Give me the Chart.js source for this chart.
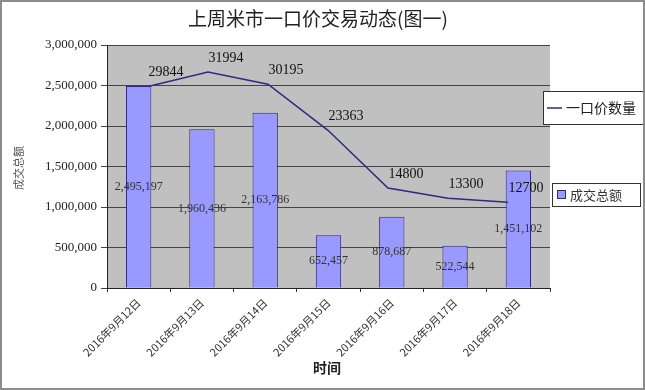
<!DOCTYPE html>
<html>
<head>
<meta charset="utf-8">
<script src="https://cdn.jsdelivr.net/npm/chart.js@4"></script>
<style>
  html, body { margin: 0; padding: 0; background: #fff; }
  canvas { display: block; }
</style>
</head>
<body>
<canvas id="myChart" width="645" height="390"></canvas>
<script>
// data (last three line values estimated, their labels are hidden)
const DAYS = [
  '2016年9月12日',
  '2016年9月13日',
  '2016年9月14日',
  '2016年9月15日',
  '2016年9月16日',
  '2016年9月17日',
  '2016年9月18日'
];
const TOTAL_AMOUNT = [2495197, 1960436, 2163786, 652457, 878687, 522544, 1451102];
const PRICE_COUNT = [29844, 31994, 30195, 23363, 14800, 13300, 12700];
const Y_TICKS = [0, 500000, 1000000, 1500000, 2000000, 2500000, 3000000];

const SERIF = '"Liberation Serif", "DejaVu Serif", serif';
const CJK = '"Noto Sans CJK SC", sans-serif';
const NAVY = '#2b2b80';

function fmt(n) {
  return n.toLocaleString('en-US');
}

const decor = {
  id: 'decor',
  beforeDraw(chart) {
    const ctx = chart.ctx;
    const a = chart.chartArea;
    ctx.save();
    ctx.fillStyle = '#fff';
    ctx.fillRect(0, 0, chart.width, chart.height);
    ctx.fillStyle = '#c0c0c0';
    ctx.fillRect(a.left, a.top, a.right - a.left, a.bottom - a.top);
    ctx.restore();
  },
  afterDatasetsDraw(chart) {
    const ctx = chart.ctx;
    ctx.save();
    ctx.textAlign = 'center';
    ctx.textBaseline = 'middle';

    // bar labels sit in the middle of each bar
    ctx.font = '12px ' + SERIF;
    ctx.fillStyle = '#333';
    chart.getDatasetMeta(0).data.forEach((bar, i) => {
      ctx.fillText(fmt(TOTAL_AMOUNT[i]), bar.x, (bar.y + bar.base) / 2);
    });

    // line labels above and to the right of the points
    ctx.font = '14px ' + SERIF;
    ctx.fillStyle = '#111';
    chart.getDatasetMeta(1).data.forEach((pt, i) => {
      ctx.fillText(String(PRICE_COUNT[i]), pt.x + 18, pt.y - 14);
    });
    ctx.restore();
  },
  afterDraw(chart) {
    const ctx = chart.ctx;
    ctx.save();

    // title
    ctx.fillStyle = '#222';
    ctx.textAlign = 'center';
    ctx.textBaseline = 'middle';
    ctx.font = '19px ' + CJK;
    ctx.fillText('上周米市一口价交易动态(图一)', 318, 19);

    // axis titles
    ctx.font = 'bold 14px ' + CJK;
    ctx.fillText('时间', 327, 368);
    ctx.save();
    ctx.translate(19, 168);
    ctx.rotate(-Math.PI / 2);
    ctx.font = '11px ' + CJK;
    ctx.fillStyle = '#555';
    ctx.fillText('成交总额', 0, 0);
    ctx.restore();

    // legend boxes
    ctx.textAlign = 'left';
    ctx.fillStyle = '#fff';
    ctx.strokeStyle = '#333';
    ctx.lineWidth = 1;
    ctx.fillRect(543.5, 91.5, 110, 33);
    ctx.strokeRect(543.5, 91.5, 110, 33);
    ctx.strokeStyle = NAVY;
    ctx.lineWidth = 1.5;
    ctx.beginPath();
    ctx.moveTo(547, 108);
    ctx.lineTo(562, 108);
    ctx.stroke();
    ctx.fillStyle = '#222';
    ctx.font = '14px ' + CJK;
    ctx.fillText('一口价数量', 566, 108);

    ctx.fillStyle = '#fff';
    ctx.strokeStyle = '#333';
    ctx.lineWidth = 1;
    ctx.fillRect(552.5, 183.5, 88, 23);
    ctx.strokeRect(552.5, 183.5, 88, 23);
    ctx.fillStyle = '#9999ff';
    ctx.strokeStyle = NAVY;
    ctx.fillRect(557.5, 190.5, 8, 8);
    ctx.strokeRect(557.5, 190.5, 8, 8);
    ctx.fillStyle = '#333';
    ctx.font = '13px ' + CJK;
    ctx.fillText('成交总额', 570, 195);

    // outer frame
    ctx.strokeStyle = '#8c8c8c';
    ctx.lineWidth = 2;
    ctx.strokeRect(1, 1, chart.width - 2, chart.height - 2);
    ctx.restore();
  }
};

window.onload = function() {
  const ctx = document.getElementById('myChart');

  const data = {
    labels: DAYS,
    datasets: [{
      type: 'bar',
      label: '成交总额',
      data: TOTAL_AMOUNT,
      backgroundColor: '#9999ff',
      borderColor: NAVY,
      borderWidth: 1,
      grouped: false,
      barPercentage: 0.4,
      categoryPercentage: 1,
      order: 1
    }, {
      type: 'line',
      label: '一口价数量',
      data: PRICE_COUNT.map((v, i) => ({x: i, y: v})),
      xAxisID: 'x2',
      yAxisID: 'y1',
      borderColor: NAVY,
      borderWidth: 1.5,
      pointRadius: 0,
      tension: 0,
      fill: false,
      order: 0
    }]
  };

  const config = {
    type: 'bar',
    data: data,
    plugins: [decor],
    options: {
      responsive: false,
      animation: false,
      layout: {padding: {top: 45, left: 0, right: 95, bottom: 0}},
      plugins: {
        legend: {display: false},
        title: {display: false},
        tooltip: {enabled: false}
      },
      scales: {
        x: {
          offset: true,
          grid: {drawOnChartArea: false, tickLength: 4, color: '#333'},
          border: {color: '#222'},
          ticks: {
            maxRotation: 45,
            minRotation: 45,
            padding: 4,
            color: '#333',
            font: {family: CJK, size: 11}
          },
          afterFit(s) { s.height = 102; }
        },
        x2: {
          type: 'linear',
          display: false,
          offset: false,
          min: -0.683,
          max: 6.7
        },
        y: {
          min: 0,
          max: 3000000,
          afterBuildTicks(s) { s.ticks = Y_TICKS.map(v => ({value: v})); },
          grid: {color: '#444', lineWidth: 1, tickLength: 6},
          border: {color: '#222'},
          ticks: {
            padding: 4,
            color: '#222',
            font: {family: SERIF, size: 13},
            callback: v => fmt(v)
          },
          afterFit(s) { s.width = 107; }
        },
        y1: {
          display: false,
          min: 0,
          max: 36000
        }
      }
    }
  };

  new Chart(ctx, config);
};
</script>
</body>
</html>
